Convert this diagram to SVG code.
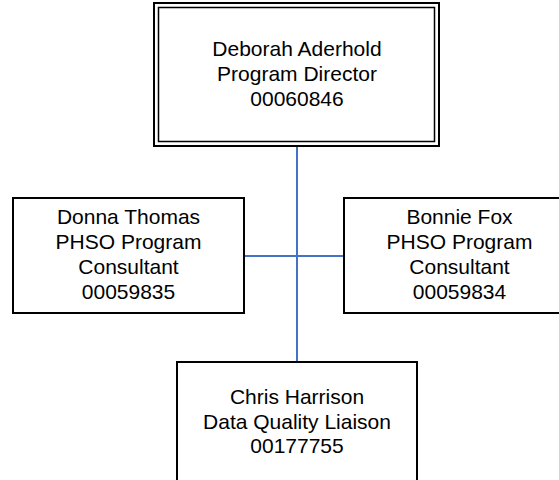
<svg xmlns="http://www.w3.org/2000/svg" width="559" height="480" viewBox="0 0 559 480">
<style>
.box{fill:#fff;stroke:#000;stroke-width:2}
.thin{fill:none;stroke:#000;stroke-width:1.5}
.t{font-family:"Liberation Sans",Arial,sans-serif;font-size:21px;fill:#000;text-anchor:middle}
.c{stroke:#4472C4;stroke-width:2;fill:none}
</style>
<rect width="559" height="480" fill="#fff"/>
<g id="connectors">
<line class="c" x1="297" y1="146" x2="297" y2="362"/>
<line class="c" x1="244" y1="256" x2="344" y2="256"/>
</g>
<g id="director">
<rect class="box" x="154" y="3" width="285" height="143"/>
<rect class="thin" x="158.5" y="7.5" width="276" height="134"/>
<text class="t" x="297" y="56">Deborah Aderhold</text>
<text class="t" x="297" y="81">Program Director</text>
<text class="t" x="297" y="106">00060846</text>
</g>
<g id="donna">
<rect class="box" x="13" y="198" width="231" height="115"/>
<text class="t" x="128.5" y="224">Donna Thomas</text>
<text class="t" x="128.5" y="249">PHSO Program</text>
<text class="t" x="128.5" y="274">Consultant</text>
<text class="t" x="128.5" y="299">00059835</text>
</g>
<g id="bonnie">
<rect class="box" x="344" y="198" width="231" height="115"/>
<text class="t" x="459.5" y="224">Bonnie Fox</text>
<text class="t" x="459.5" y="249">PHSO Program</text>
<text class="t" x="459.5" y="274">Consultant</text>
<text class="t" x="459.5" y="299">00059834</text>
</g>
<g id="chris">
<rect class="box" x="177" y="362" width="240" height="140"/>
<text class="t" x="297" y="404">Chris Harrison</text>
<text class="t" x="297" y="429">Data Quality Liaison</text>
<text class="t" x="297" y="453">00177755</text>
</g>
</svg>
